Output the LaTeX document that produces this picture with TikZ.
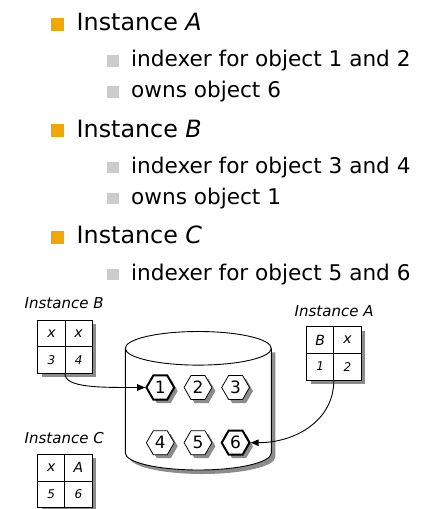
\documentclass[tikz,border=0pt]{standalone}
\usepackage{fontspec}
\setmainfont{DejaVu Sans}
\usetikzlibrary{shapes.geometric,shadows,arrows.meta,calc}
\definecolor{borange}{RGB}{240,168,0}
\definecolor{bgray}{RGB}{204,204,204}
\definecolor{shd}{RGB}{140,140,140}
\begin{document}
\begin{tikzpicture}[x=1pt,y=-1pt,
  topitem/.style={anchor=base west,inner sep=0pt,font=\fontsize{23.8}{28}\selectfont},
  subitem/.style={anchor=base west,inner sep=0pt,font=\fontsize{21.6}{25}\selectfont},
  lbl/.style={anchor=base west,inner sep=0pt,font=\fontsize{15}{18}\selectfont\itshape},
  tbl/.style={draw,line width=0.9pt,fill=white,minimum width=54.5pt,minimum height=53.3pt,inner sep=0pt,
    drop shadow={shadow xshift=4pt,shadow yshift=-4pt,fill=shd,opacity=1}},
  celltop/.style={inner sep=0pt,font=\fontsize{14}{16}\selectfont\itshape},
  cellbot/.style={inner sep=0pt,font=\fontsize{12}{14}\selectfont\itshape},
  hexo/.style={regular polygon,regular polygon sides=6,minimum size=27.8pt,inner sep=0pt,
    draw,line width=0.8pt,fill=white,font=\fontsize{17}{20}\selectfont,
    drop shadow={shadow xshift=3.5pt,shadow yshift=-3.5pt,fill=shd,opacity=1}},
  hexb/.style={hexo,line width=2pt},
  conn/.style={line width=0.9pt,-{Triangle[length=8pt,width=6.5pt]}}
]
\useasboundingbox (0,0) rectangle (433,509);

% bullet list
\fill[borange] (51,17.5) rectangle (64,30.5);
\node[topitem] (iA) at (76.5,30.5) {Instance \textit{A}};
\fill[bgray] (107,55.2) rectangle (118.5,66.7);
\node[subitem] (iA1) at (131,66.7) {indexer for object 1 and 2};
\fill[bgray] (107,86) rectangle (118.5,97.5);
\node[subitem] (iA2) at (131,97.5) {owns object 6};

\fill[borange] (51,124) rectangle (64,137);
\node[topitem] (iB) at (76.5,137) {Instance \textit{B}};
\fill[bgray] (107,161.7) rectangle (118.5,173.2);
\node[subitem] (iB1) at (131,173.2) {indexer for object 3 and 4};
\fill[bgray] (107,192.5) rectangle (118.5,204);
\node[subitem] (iB2) at (131,204) {owns object 1};

\fill[borange] (51,230.8) rectangle (64,243.8);
\node[topitem] (iC) at (76.5,243.8) {Instance \textit{C}};
\fill[bgray] (107,268.5) rectangle (118.5,280);
\node[subitem] (iC1) at (131,280) {indexer for object 5 and 6};

% cylinder
\fill[shd] (129.3,352.3) -- (129.3,457) arc[start angle=180,end angle=360,x radius=73pt,y radius=17pt] -- (275.3,352.3) -- cycle;
\filldraw[fill=white,line width=0.9pt] (125.3,348.3) -- (125.3,453) arc[start angle=180,end angle=360,x radius=73pt,y radius=17pt] -- (271.3,348.3);
\draw[line width=0.9pt,fill=white] (198.3,348.3) ellipse[x radius=73pt,y radius=16.8pt];

% hexagons
\node[hexb] (h1) at (160.3,387.5) {1};
\node[hexo] (h2) at (198,387.5) {2};
\node[hexo] (h3) at (235.6,387.5) {3};
\node[hexo] (h4) at (160.3,442.7) {4};
\node[hexo] (h5) at (198,442.7) {5};
\node[hexb] (h6) at (235.6,442.7) {6};

% instance B
\node[lbl] (lB) at (24.5,308) {Instance B};
\node[tbl] (tB) at (65,346.7) {};
\draw[line width=0.9pt] (tB.north) -- (tB.south) (tB.west) -- (tB.east);
\node[celltop] (tB11) at (51.4,333.4) {x};
\node[celltop] (tB12) at (78.6,333.4) {x};
\node[cellbot] (tB21) at (51.4,360) {3};
\node[cellbot] (tB22) at (78.6,360) {4};

% instance A
\node[lbl] (lA) at (294.5,316) {Instance A};
\node[tbl] (tA) at (333.8,353.3) {};
\draw[line width=0.9pt] (tA.north) -- (tA.south) (tA.west) -- (tA.east);
\node[celltop] (tA11) at (320.2,340) {B};
\node[celltop] (tA12) at (347.4,340) {x};
\node[cellbot] (tA21) at (320.2,366.6) {1};
\node[cellbot] (tA22) at (347.4,366.6) {2};

% instance C
\node[lbl] (lC) at (24.5,443) {Instance C};
\node[tbl] (tC) at (64.8,481) {};
\draw[line width=0.9pt] (tC.north) -- (tC.south) (tC.west) -- (tC.east);
\node[celltop] (tC11) at (51.2,467.7) {x};
\node[celltop] (tC12) at (78.4,467.7) {A};
\node[cellbot] (tC21) at (51.2,494.3) {5};
\node[cellbot] (tC22) at (78.4,494.3) {6};

% connectors
\draw[conn] (tB.south) to[out=-90,in=180,out distance=14pt,in distance=45pt] (h1.west);
\draw[conn] (tA.south) to[out=-90,in=0,out distance=40pt,in distance=45pt] (h6.east);
\end{tikzpicture}
\end{document}
